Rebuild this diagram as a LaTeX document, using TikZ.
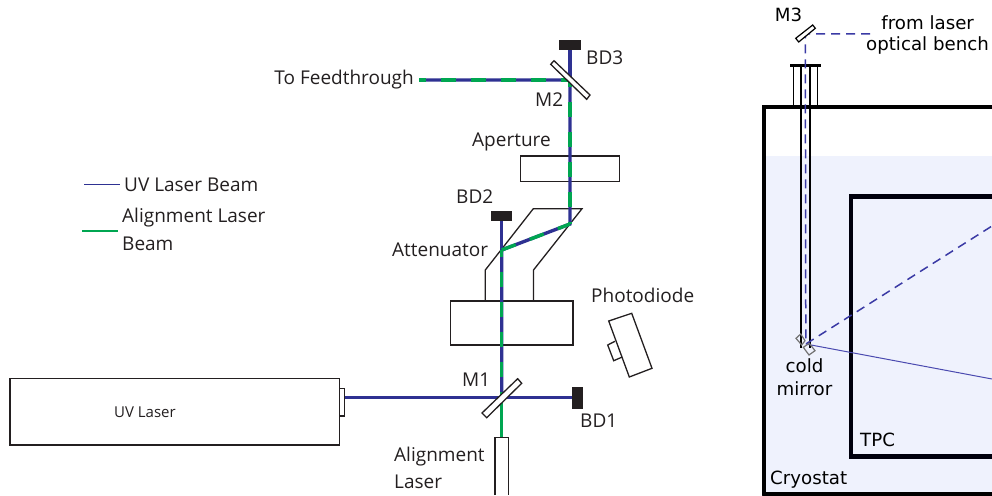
\documentclass[tikz,border=0pt]{standalone}
\usepackage{fontspec}
\setmainfont{Open Sans}
\newfontfamily\djsans{DejaVu Sans}
\definecolor{uvblue}{HTML}{2E3192}
\definecolor{algreen}{HTML}{00A651}
\definecolor{ink}{HTML}{231F20}
\definecolor{argon}{HTML}{EFF2FD}
\definecolor{dashblue}{HTML}{3A3AA5}
\definecolor{fineblue}{HTML}{4A4AB0}
\tikzset{
  optic/.style={draw=ink,line width=1.3pt,fill=white,line join=miter},
  outline/.style={draw=ink,line width=1.3pt},
  dump/.style={fill=ink,draw=none},
  uvbeam/.style={draw=uvblue,line width=3.4pt},
  albeam/.style={draw=algreen,line width=3.4pt,dash pattern=on 15pt off 15pt},
  algsolid/.style={draw=algreen,line width=3.4pt},
  lab/.style={text=ink,inner sep=0pt,font=\fontsize{19}{22}\selectfont},
  rlab/.style={text=black,inner sep=0pt,font=\djsans\fontsize{18.2}{22}\selectfont},
  wall/.style={draw=black,line width=4pt},
  tpcwall/.style={draw=black!95!blue,line width=4.5pt},
  tube/.style={draw=black,line width=1.4pt},
  fine/.style={draw=fineblue,line width=1pt},
  finedash/.style={draw=dashblue,line width=1.5pt,dash pattern=on 9pt off 6pt},
  coldm/.style={draw=black!55,line width=1.2pt},
}
\begin{document}
\begin{tikzpicture}[x=1pt,y=-1pt]
\useasboundingbox (0,0) rectangle (992,495);
% ---------- right panel
\fill[argon] (764,156) rectangle (992,493);
\draw[wall,line cap=round] (992,107) -- (764,107) -- (764,495);
\draw[wall] (764,493.5) -- (992,493.5);
\draw[tpcwall] (992,196.5) -- (851,196.5) -- (851,456.5) -- (992,456.5);
\draw[tube] (793.3,66) -- (793.3,107) (817.3,66) -- (817.3,107);
\draw[tube,line width=1.6pt] (800.7,66) -- (800.7,348) (810,66) -- (810,348);
\draw[draw=black,line width=3pt] (790,65.7) -- (820.7,65.7);
\coordinate (m3c) at (805.3,34);
\coordinate (coldc) at (805.8,344);
\coordinate (benchEnd) at (870,34);
\coordinate (tpcA) at (992,226);
\coordinate (tpcB) at (992,379);
\draw[finedash] (benchEnd) -- (m3c) -- (coldc) -- (tpcA);
\draw[fine] (coldc) -- (tpcB);
\draw[draw=black,line width=1.2pt,fill=white] (812.7,25) -- (815.3,28.3) -- (798.7,42) -- (795.7,38.3) -- cycle;
\draw[coldm] (796,338.3) -- (800.7,334) -- (805,340.7) -- (801.7,345) -- cycle;
\draw[coldm] (803.3,347.3) -- (809.3,343.3) -- (815,350.7) -- (809,355) -- cycle;
\node[rlab,anchor=center] (m3l) at (788.5,15) {M3};
\node[rlab,anchor=center] (froml) at (927.7,23) {from laser};
\node[rlab,anchor=center] (bench) at (927.5,45.5) {optical bench};
\node[rlab,anchor=center] (cold) at (804.5,366) {cold};
\node[rlab,anchor=center] (mirr) at (804.5,389) {mirror};
\node[rlab,anchor=west] (tpcl) at (860,439.5) {TPC};
\node[rlab,anchor=west] (cryo) at (770,480) {Cryostat};
% ---------- left panel: coordinates
\coordinate (bd3b) at (570,50);
\coordinate (m2c) at (570,80);
\coordinate (ftend) at (419,80);
\coordinate (attR) at (570,224);
\coordinate (attL) at (501.7,250);
\coordinate (bd2b) at (501.7,220);
\coordinate (m1c) at (501.7,397.7);
\coordinate (alg) at (501.7,437);
\coordinate (uvout) at (344.7,397.7);
\coordinate (bd1l) at (572,397.7);
% housings behind beams
\node[optic,minimum width=99pt,minimum height=25.3pt,inner sep=0pt,fill=none] (aper) at (570.2,168.7) {};
\node[optic,minimum width=122.3pt,minimum height=44pt,inner sep=0pt,fill=none] (atbox) at (511.9,323) {};
\draw[outline,line join=miter] (485.3,301) -- (485.3,270) -- (533.3,208.7) -- (582,208.7) -- (533.5,270) -- (533.5,301);
\node[optic,minimum width=329.7pt,minimum height=66.3pt,inner sep=0pt] (uvl) at (174.85,411.8) {};
\draw[optic] (339.7,388.3) rectangle (344.7,416);
% beams
\draw[uvbeam] (uvout) -- (m1c) -- (bd1l);
\draw[uvbeam] (bd3b) -- (m2c);
\draw[uvbeam] (bd2b) -- (attL);
\draw[uvbeam,line join=miter] (ftend) -- (m2c) -- (attR) -- (attL) -- (m1c);
\draw[algsolid] (alg) -- (m1c);
\draw[albeam,dash phase=9pt] (m1c) -- (attL);
\draw[albeam] (attL) -- (attR);
\draw[albeam,dash phase=12.7pt] (attR) -- (m2c);
\draw[albeam,dash phase=7.7pt] (ftend) -- (m2c);
% dumps
\fill[dump] (559,40) rectangle (581,50);
\fill[dump] (490.7,210.7) rectangle (512.3,220.7);
\fill[dump] (572,387.3) rectangle (582.7,408.7);
% mirrors
\draw[optic] (554,60.7) -- (550.7,64.3) -- (586.7,99.3) -- (590,95) -- cycle;
\draw[optic] (517.7,378.7) -- (521.7,383.3) -- (486.7,417.7) -- (482,413) -- cycle;
% alignment laser, open at bottom
\draw[outline] (495,495) -- (495,437.7) -- (508.3,437.7) -- (508.3,495);
% photodiode
\draw[outline,line join=miter] (608.7,321) -- (631.7,313.3) -- (652,368.3) -- (629.3,377) -- cycle;
\draw[outline,line join=miter] (615,341.3) -- (607.7,345) -- (613.7,360.7) -- (622.3,357);
% legend
\coordinate (lu1) at (84,184.3); \coordinate (lu2) at (120,184.3);
\coordinate (lg1) at (82,230.7); \coordinate (lg2) at (118,230.7);
\draw[draw=uvblue,line width=1.6pt] (lu1) -- (lu2);
\draw[draw=algreen,line width=1.6pt] (lg1) -- (lg2);
% labels
\node[lab,anchor=west] (luv) at (124,185) {UV Laser Beam};
\node[lab,anchor=west] (lal) at (122,218) {Alignment Laser};
\node[lab,anchor=west] (lbe) at (122,244) {Beam};
\node[lab,anchor=east] (ft) at (414,80) {To Feedthrough};
\node[lab,anchor=west] (bd3l) at (586,58) {BD3};
\node[lab,anchor=west] (m2l) at (535,100) {M2};
\node[lab,anchor=west] (apl) at (472,142) {Aperture};
\node[lab,anchor=west] (bd2l) at (456,197) {BD2};
\node[lab,anchor=west] (atl) at (392,250) {Attenuator};
\node[lab,anchor=west] (pdl) at (591,295) {Photodiode};
\node[lab,anchor=west] (m1l) at (462,380) {M1};
\node[lab,anchor=west] (bd1t) at (580,421) {BD1};
\node[lab,anchor=west] (all) at (394,457) {Alignment};
\node[lab,anchor=west] (lal2) at (394,482) {Laser};
\node[lab,anchor=center,font=\fontsize{15}{18}\selectfont] (uvt) at (145,412) {UV Laser};
\end{tikzpicture}
\end{document}
